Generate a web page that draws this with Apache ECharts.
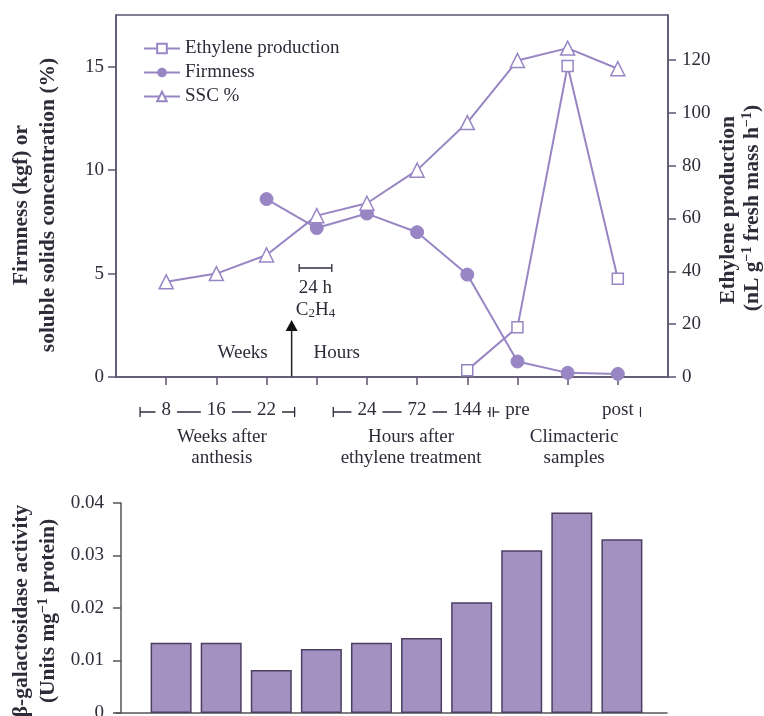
<!DOCTYPE html>
<html>
<head>
<meta charset="utf-8">
<script src="https://cdn.jsdelivr.net/npm/echarts@6/dist/echarts.min.js"></script>
<style>
  html, body { margin: 0; padding: 0; background: #fff; }
  #chart { width: 764px; height: 716px; }
</style>
</head>
<body>
<div id="chart"></div>
<script>
// sampling points 1..10 along the top x axis
const xPos = [1, 2, 3, 4, 5, 6, 7, 8, 9, 10]
const xLabels = ['8', '16', '22', '', '24', '72', '144', 'pre', '', 'post']

const ssc = [4.6, 5.0, 5.9, 7.8, 8.4, 10.0, 12.3, 15.3, 15.9, 14.9]
const firmness = [null, null, 8.6, 7.2, 7.9, 7.0, 4.95, 0.75, 0.2, 0.15]
const ethylene = [null, null, null, null, null, null, 2.6, 18.8, 117.7, 37.2]
const galactosidase = [0.0134, 0.0134, 0.0082, 0.0122, 0.0134, 0.0143, 0.0211, 0.031, 0.0382, 0.0331]

const leftTicks = [0, 5, 10, 15]
const rightTicks = [0, 20, 40, 60, 80, 100, 120]

const FONT = '"Liberation Serif", "DejaVu Serif", serif'
const LINE = '#9886c4'
const AXIS = '#5e5470'
const TEXT = '#2f2b38'

const pairs = arr => arr.map((v, i) => [xPos[i], v]).filter(p => p[1] !== null)

const chart = echarts.init(document.getElementById('chart'))

const baseAxis = {
    axisLine: { show: true, lineStyle: { color: AXIS, width: 1.5 } },
    axisTick: { show: true, length: 8, lineStyle: { color: AXIS, width: 1.5 } },
    axisLabel: { color: TEXT, fontFamily: FONT, fontSize: 19 },
    splitLine: { show: false }
}

const option = {
    animation: false,
    backgroundColor: '#fff',
    legend: {
        left: 138,
        top: 34,
        orient: 'vertical',
        itemGap: 5,
        itemWidth: 36,
        itemHeight: 12,
        textStyle: { color: TEXT, fontFamily: FONT, fontSize: 19 },
        data: ['Ethylene production', 'Firmness', 'SSC %']
    },
    grid: [
        { left: 116, right: 96, top: 15, bottom: 339, outerBoundsMode: 'none', show: true, borderColor: AXIS, borderWidth: 1.5 },
        { left: 116, right: 97, top: 503, bottom: 3, outerBoundsMode: 'none' }
    ],
    xAxis: [
        {
            ...baseAxis,
            type: 'value', gridIndex: 0, min: 0, max: 11,
            axisTick: { ...baseAxis.axisTick, customValues: xPos },
            axisLabel: {
                ...baseAxis.axisLabel,
                customValues: xPos,
                margin: 24,
                backgroundColor: '#fff',
                padding: [0, 6],
                formatter: v => xLabels[xPos.indexOf(v)] || ''
            }
        },
        {
            type: 'value', gridIndex: 1, min: -0.1, max: 10.9,
            axisLine: { show: true, onZero: false, lineStyle: { color: '#555', width: 1.5 } },
            axisTick: { show: false },
            axisLabel: { show: false },
            splitLine: { show: false }
        }
    ],
    yAxis: [
        {
            ...baseAxis,
            type: 'value', gridIndex: 0, min: 0, max: 17.5, position: 'left',
            axisTick: { ...baseAxis.axisTick, customValues: leftTicks },
            axisLabel: { ...baseAxis.axisLabel, customValues: leftTicks, margin: 12 }
        },
        {
            ...baseAxis,
            type: 'value', gridIndex: 0, min: 0, max: 137, position: 'right',
            axisTick: { ...baseAxis.axisTick, customValues: rightTicks },
            axisLabel: { ...baseAxis.axisLabel, customValues: rightTicks, margin: 14 }
        },
        {
            type: 'value', gridIndex: 1, min: 0, max: 0.04, interval: 0.01,
            axisLine: { show: true, lineStyle: { color: '#555', width: 1.5 } },
            axisTick: { show: true, length: 8, lineStyle: { color: '#555', width: 1.5 } },
            axisLabel: {
                color: TEXT, fontFamily: FONT, fontSize: 19, margin: 12,
                formatter: v => (v === 0 ? '0' : v.toFixed(2))
            },
            splitLine: { show: false }
        }
    ],
    series: [
        {
            name: 'Ethylene production', type: 'line', xAxisIndex: 0, yAxisIndex: 1,
            data: pairs(ethylene),
            symbol: 'rect', symbolSize: 11,
            lineStyle: { color: LINE, width: 2 },
            itemStyle: { color: '#fff', borderColor: LINE, borderWidth: 1.5 }
        },
        {
            name: 'Firmness', type: 'line', xAxisIndex: 0, yAxisIndex: 0,
            data: pairs(firmness),
            symbol: 'circle', symbolSize: 13,
            lineStyle: { color: LINE, width: 2 },
            itemStyle: { color: LINE, borderColor: LINE }
        },
        {
            name: 'SSC %', type: 'line', xAxisIndex: 0, yAxisIndex: 0,
            data: pairs(ssc),
            symbol: 'triangle', symbolSize: 14,
            lineStyle: { color: LINE, width: 2 },
            itemStyle: { color: '#fff', borderColor: LINE, borderWidth: 1.5 }
        },
        {
            name: 'galactosidase', type: 'bar', xAxisIndex: 1, yAxisIndex: 2,
            data: pairs(galactosidase),
            barWidth: 41,
            itemStyle: { color: '#a391c1', borderColor: '#4d3f63', borderWidth: 1.5 }
        }
    ]
}

chart.setOption(option)

// annotations placed through the top chart's own scales
const px = (x, y) => chart.convertToPixel({ xAxisIndex: 0, yAxisIndex: 0 }, [x, y])
const txt = (x, y, text, extra) => ({
    type: 'text', x, y,
    style: Object.assign({ text, fill: TEXT, font: '19px ' + FONT, align: 'center', verticalAlign: 'middle' }, extra || {})
})

// bracket segments under the x labels: [from, to, capLeft, capRight]
const bracketGroups = [[0.48, 3.56, true, true], [4.33, 7.45, true, true], [7.52, 8, true, false], [10, 10.45, false, true]]
const captions = [
    [2.11, 'Weeks after\nanthesis'],
    [5.88, 'Hours after\nethylene treatment'],
    [9.13, 'Climacteric\nsamples']
]

const graphics = []
const rowY = 412
bracketGroups.forEach(([a, b, capL, capR]) => {
    const x1 = px(a, 0)[0]
    const x2 = px(b, 0)[0]
    const ls = { stroke: TEXT, lineWidth: 1.3 }
    graphics.push({ type: 'line', z: -1, shape: { x1, y1: rowY, x2, y2: rowY }, style: ls })
    if (capL) graphics.push({ type: 'line', z: -1, shape: { x1, y1: rowY - 5, x2: x1, y2: rowY + 5 }, style: ls })
    if (capR) graphics.push({ type: 'line', z: -1, shape: { x1: x2, y1: rowY - 5, x2, y2: rowY + 5 }, style: ls })
})
captions.forEach(([x, t]) => {
    graphics.push(txt(px(x, 0)[0], 448, t, { lineHeight: 21 }))
})

// ethylene treatment arrow
const arrowX = px(3.5, 0)[0]
const base = px(3.5, 0)[1]
graphics.push({ type: 'line', shape: { x1: arrowX, y1: base, x2: arrowX, y2: 328 }, style: { stroke: '#222', lineWidth: 1.5 } })
graphics.push({ type: 'polygon', shape: { points: [[arrowX, 320], [arrowX - 6, 331], [arrowX + 6, 331]] }, style: { fill: '#111' } })
graphics.push(txt(arrowX - 49, 353, 'Weeks'))
graphics.push(txt(arrowX + 45, 353, 'Hours'))

// 24 h bar
const hx1 = px(3.65, 0)[0]
const hx2 = px(4.3, 0)[0]
graphics.push({ type: 'line', shape: { x1: hx1, y1: 268, x2: hx2, y2: 268 }, style: { stroke: TEXT, lineWidth: 1.3 } })
graphics.push({ type: 'line', shape: { x1: hx1, y1: 264, x2: hx1, y2: 272 }, style: { stroke: TEXT, lineWidth: 1.3 } })
graphics.push({ type: 'line', shape: { x1: hx2, y1: 264, x2: hx2, y2: 272 }, style: { stroke: TEXT, lineWidth: 1.3 } })
graphics.push(txt((hx1 + hx2) / 2, 288, '24 h'))
graphics.push({
    type: 'text', x: (hx1 + hx2) / 2, y: 310,
    style: {
        text: 'C{s|2}H{s|4}', fill: TEXT, font: '19px ' + FONT, align: 'center', verticalAlign: 'middle',
        rich: { s: { fontSize: 13, fontFamily: FONT, fill: TEXT, verticalAlign: 'bottom', padding: [8, 0, 0, 0] } }
    }
})

// axis titles
const boldTitle = (x, y, text) => ({
    type: 'text', x, y, rotation: Math.PI / 2,
    style: {
        text, fill: TEXT, font: 'bold 21.5px ' + FONT, align: 'center', verticalAlign: 'middle',
        rich: { sup: { fontSize: 14, fontWeight: 'bold', fontFamily: FONT, fill: TEXT, verticalAlign: 'top', padding: [0, 0, 9, 0] } }
    }
})
graphics.push(boldTitle(21, 205, 'Firmness (kgf) or'))
graphics.push(boldTitle(48, 205, 'soluble solids concentration (%)'))
graphics.push(boldTitle(728, 210, 'Ethylene production'))
graphics.push(boldTitle(752, 208, '(nL g{sup|−1} fresh mass h{sup|−1})'))
graphics.push(boldTitle(21, 611, 'β-galactosidase activity'))
graphics.push(boldTitle(48, 611, '(Units mg{sup|−1} protein)'))

chart.setOption({ graphic: { elements: graphics } })
</script>
</body>
</html>
